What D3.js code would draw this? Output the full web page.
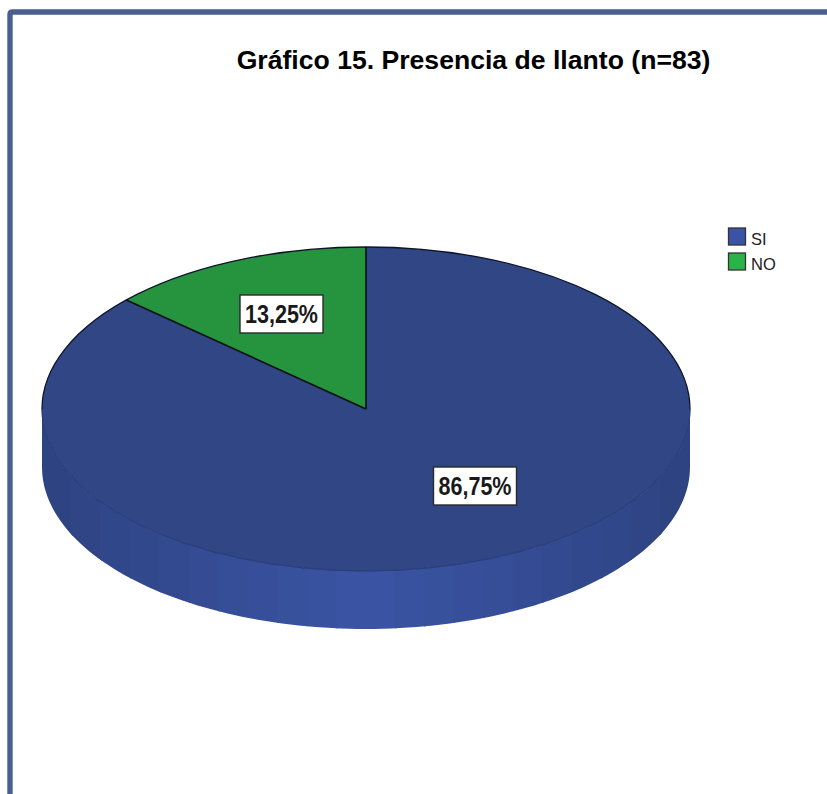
<!DOCTYPE html>
<html><head><meta charset="utf-8">
<script src="https://cdn.jsdelivr.net/npm/d3@7/dist/d3.min.js"></script>
<style>html,body{margin:0;padding:0;background:#fff;overflow:hidden}svg{display:block}</style>
</head><body><svg id="c" width="827" height="794"></svg>
<script>
const titleText = "Gráfico 15. Presencia de llanto (n=83)";
const categories = ["SI", "NO"];
const values = [86.75, 13.25];
const valueLabels = ["86,75%", "13,25%"];
const topColors = ["#304685", "#26933f"];
const legendColors = ["#3a53a4", "#2bb34a"];

const svg = d3.select("#c");
const W = 827, H = 794, cx = 366, cy = 409, rx = 324, tilt = 0.5, depth = 58;
const font = "'Liberation Sans', Arial, sans-serif";

// frame
svg.append("path")
  .attr("d", `M10,${H} V14.5 Q10,12 12.5,12 H${W}`)
  .attr("fill", "none").attr("stroke", "#4a5f8f").attr("stroke-width", 5.4);

svg.append("text").text(titleText)
  .attr("x", 473.5).attr("y", 69).attr("text-anchor", "middle")
  .attr("font-family", font).attr("font-weight", "bold").attr("font-size", 26.6).attr("fill", "#000");

const arcs = d3.pie().sort(null).value(d => d)(values);
const arc = d3.arc().innerRadius(0).outerRadius(rx);
const rim = d3.arc().innerRadius(rx).outerRadius(rx);
const lighting = d3.scaleLinear().domain([0, 0.3, 0.5, 0.7, 1]).range(["#2d4280", "#364e98", "#3b54a3", "#364e98", "#2d4280"]);

// side wall silhouette, filled with vertical bands
const wallSteps = d3.range(0, 121);
const wallAngle = d3.scaleLinear().domain([0, 120]).range([Math.PI, 0]);
const wallTop = wallSteps.map(i => [cx + rx * Math.cos(wallAngle(i)), cy + rx * tilt * Math.sin(wallAngle(i))]);
const wallBottom = wallTop.map(p => [p[0], p[1] + depth]).reverse();
svg.append("clipPath").attr("id", "wall").append("path")
  .attr("d", d3.line()(wallTop.concat(wallBottom)) + "Z");
const bands = d3.scaleBand().domain(d3.range(22)).range([cx - rx, cx + rx]);
svg.append("g").attr("clip-path", "url(#wall)")
  .selectAll("rect").data(bands.domain()).join("rect")
  .attr("x", d => Math.floor(bands(d))).attr("y", cy)
  .attr("width", d => Math.ceil(bands.bandwidth()) + 1).attr("height", rx * tilt + depth + 2)
  .attr("fill", d => lighting((d + 0.5) / 22));

// top face
const topFace = svg.append("g").attr("transform", `translate(${cx},${cy}) scale(1,${tilt})`);
topFace.selectAll("path.slice").data(arcs).join("path").attr("class", "slice")
  .attr("d", arc)
  .attr("fill", (d, i) => topColors[i]);

// radial edges and back rim are dark, the front rim is only a faint seam
topFace.append("path")
  .attr("d", rim({startAngle: -Math.PI / 2, endAngle: Math.PI / 2}))
  .attr("fill", "none").attr("stroke", "#10162a").attr("stroke-width", 1.3)
  .attr("vector-effect", "non-scaling-stroke");
topFace.append("path")
  .attr("d", rim({startAngle: Math.PI / 2, endAngle: 3 * Math.PI / 2}))
  .attr("fill", "none").attr("stroke", "#2a3f7a").attr("stroke-width", 1)
  .attr("vector-effect", "non-scaling-stroke");
topFace.selectAll("line").data(arcs).join("line")
  .attr("x1", 0).attr("y1", 0)
  .attr("x2", d => rx * Math.sin(d.startAngle))
  .attr("y2", d => -rx * Math.cos(d.startAngle))
  .attr("stroke", "#0a0f12").attr("stroke-width", 1.6)
  .attr("vector-effect", "non-scaling-stroke");

// value labels
const labelPos = [{x: 475, y: 486}, {x: 281.5, y: 314}];
const labels = svg.append("g").selectAll("g").data(arcs).join("g")
  .attr("transform", (d, i) => `translate(${labelPos[i].x},${labelPos[i].y})`);
labels.append("rect").attr("x", -41.5).attr("y", -19).attr("width", 83).attr("height", 38)
  .attr("fill", "#fff").attr("stroke", "#2a2a2a").attr("stroke-width", 1.4);
labels.append("text").text((d, i) => valueLabels[i])
  .attr("y", 9).attr("text-anchor", "middle")
  .attr("textLength", 73).attr("lengthAdjust", "spacingAndGlyphs")
  .attr("font-family", font).attr("font-weight", "bold").attr("font-size", 25).attr("fill", "#1a1a1a");

// legend
const legend = svg.append("g").selectAll("g").data(categories).join("g")
  .attr("transform", (d, i) => `translate(728,${228 + i * 25})`);
legend.append("rect").attr("x", 0.5).attr("y", 0).attr("width", 17).attr("height", 17)
  .attr("fill", (d, i) => legendColors[i]).attr("stroke", "#333").attr("stroke-width", 1.3);
legend.append("text").text(d => d).attr("x", 23).attr("y", 17)
  .attr("font-family", font).attr("font-size", 16.5).attr("fill", "#222");
</script></body></html>
